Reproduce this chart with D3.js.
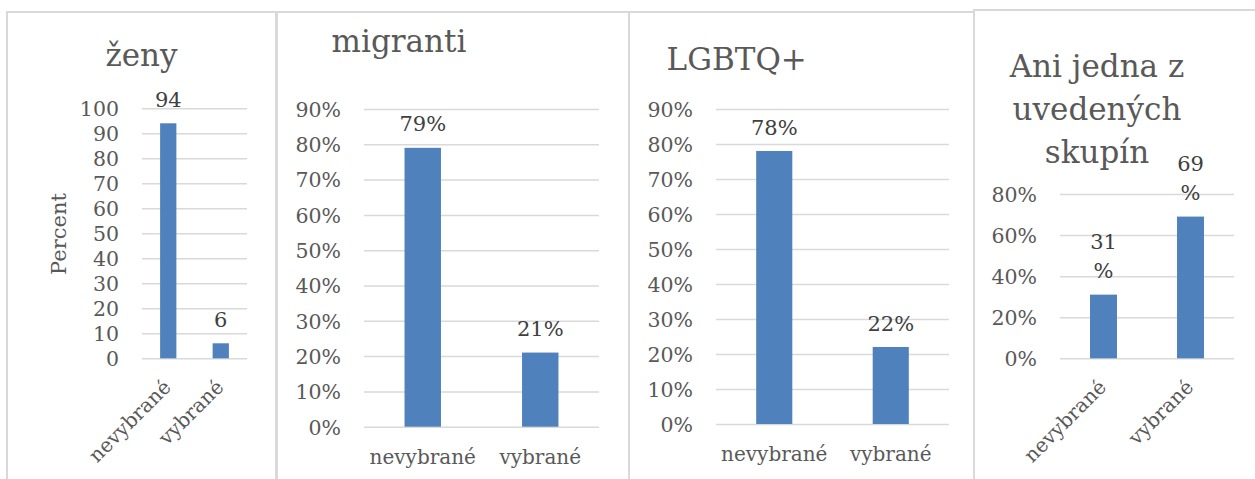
<!DOCTYPE html>
<html>
<head>
<meta charset="utf-8">
<script src="https://cdn.jsdelivr.net/npm/d3@7"></script>
<style>
  html, body { margin: 0; padding: 0; background: #fff; }
  svg { display: block; font-family: "DejaVu Serif", "Liberation Serif", serif; }
</style>
</head>
<body>
<svg id="chart" width="1255" height="479"></svg>
<script>
// ---- data ----
const categories = ["nevybrané", "vybrané"];
const titles = [["ženy"], ["migranti"], ["LGBTQ+"], ["Ani jedna z", "uvedených", "skupín"]];
const zenyValues = [94, 6];
const migrantiValues = [0.79, 0.21];
const lgbtValues = [0.78, 0.22];
const aniValues = [0.31, 0.69];
const zenyTicks = [0, 10, 20, 30, 40, 50, 60, 70, 80, 90, 100];
const migrantiTicks = [0, 0.1, 0.2, 0.3, 0.4, 0.5, 0.6, 0.7, 0.8, 0.9];
const lgbtTicks = [0, 0.1, 0.2, 0.3, 0.4, 0.5, 0.6, 0.7, 0.8, 0.9];
const aniTicks = [0, 0.2, 0.4, 0.6, 0.8];
const zenyLabels = [["94"], ["6"]];
const migrantiLabels = [["79%"], ["21%"]];
const lgbtLabels = [["78%"], ["22%"]];
const aniLabels = [["31", "%"], ["69", "%"]];
const yAxisTitle = "Percent";

// ---- layout ----
const BAR = "#4F81BD", GRID = "#D9D9D9", TXT = "#595959", LBL = "#404040";
const pct = d3.format(".0%");
const panels = [
  { box: [7, 12, 277, 520], plot: [142, 247], yr: [358.3, 108.3], max: 100, values: zenyValues, ticks: zenyTicks, fmt: d => d,
    labels: zenyLabels, rotate: true, title: titles[0], tx: 141.5, ty: [66], ytitle: true },
  { box: [276, 12, 629, 520], plot: [364, 599], yr: [426.7, 109], max: 0.9, values: migrantiValues, ticks: migrantiTicks, fmt: pct,
    labels: migrantiLabels, rotate: false, title: titles[1], tx: 399, ty: [52], catY: 463.5 },
  { box: [629, 12, 974, 520], plot: [716, 949], yr: [424, 109], max: 0.9, values: lgbtValues, ticks: lgbtTicks, fmt: pct,
    labels: lgbtLabels, rotate: false, title: titles[2], tx: 736.7, ty: [70], catY: 461 },
  { box: [974, 10, 1300, 520], plot: [1060, 1234], yr: [358.3, 194], max: 0.8, values: aniValues, ticks: aniTicks, fmt: pct,
    labels: aniLabels, rotate: true, title: titles[3], tx: 1097, ty: [77.3, 120, 163.3] }
];

const svg = d3.select("#chart");

panels.forEach(p => {
  const g = svg.append("g");
  // panel border
  g.append("rect")
    .attr("x", p.box[0]).attr("y", p.box[1])
    .attr("width", p.box[2] - p.box[0]).attr("height", p.box[3] - p.box[1])
    .attr("fill", "none").attr("stroke", GRID).attr("stroke-width", 2);

  const x = d3.scaleBand().domain(categories).range(p.plot).paddingInner(0.69).paddingOuter(0.345);
  const y = d3.scaleLinear().domain([0, p.max]).range(p.yr);

  // y axis with gridlines
  const ax = g.append("g")
    .attr("transform", `translate(${p.plot[0]},0)`)
    .call(d3.axisLeft(y).tickValues(p.ticks).tickFormat(p.fmt)
      .tickSizeInner(-(p.plot[1] - p.plot[0])).tickSizeOuter(0).tickPadding(23));
  ax.select(".domain").remove();
  ax.selectAll(".tick line").attr("stroke", GRID).attr("stroke-width", 1.5);
  ax.selectAll(".tick text").attr("fill", TXT).attr("font-size", 20.5)
    .attr("font-family", "DejaVu Serif, serif").attr("dy", "0.36em");

  // bars
  g.selectAll("rect.bar").data(p.values).join("rect")
    .attr("class", "bar")
    .attr("x", (d, i) => x(categories[i]))
    .attr("width", x.bandwidth())
    .attr("y", d => y(d))
    .attr("height", d => y(0) - y(d))
    .attr("fill", BAR);

  // data labels
  p.values.forEach((v, i) => {
    const lines = p.labels[i];
    const cx = x(categories[i]) + x.bandwidth() / 2;
    const base = y(v) - 16.5;
    lines.forEach((t, k) => {
      g.append("text")
        .attr("x", cx)
        .attr("y", base - (lines.length - 1 - k) * 29.5)
        .attr("text-anchor", "middle")
        .attr("font-size", 21).attr("fill", LBL)
        .text(t);
    });
  });

  // category labels
  categories.forEach((c, i) => {
    const cx = x(c) + x.bandwidth() / 2;
    if (p.rotate) {
      g.append("text")
        .attr("transform", `translate(${cx + 4},${y(0) + 30}) rotate(-45)`)
        .attr("text-anchor", "end")
        .attr("font-size", 20).attr("fill", TXT)
        .text(c);
    } else {
      g.append("text")
        .attr("x", cx).attr("y", p.catY)
        .attr("text-anchor", "middle")
        .attr("font-size", 20).attr("fill", TXT)
        .text(c);
    }
  });

  // title
  p.title.forEach((t, k) => {
    g.append("text")
      .attr("x", p.tx).attr("y", p.ty[k])
      .attr("text-anchor", "middle")
      .attr("font-size", 31).attr("fill", TXT)
      .text(t);
  });

  if (p.ytitle) {
    g.append("text")
      .attr("transform", `translate(66,234) rotate(-90)`)
      .attr("text-anchor", "middle")
      .attr("font-size", 21).attr("fill", TXT)
      .text(yAxisTitle);
  }
});
</script>
</body>
</html>
